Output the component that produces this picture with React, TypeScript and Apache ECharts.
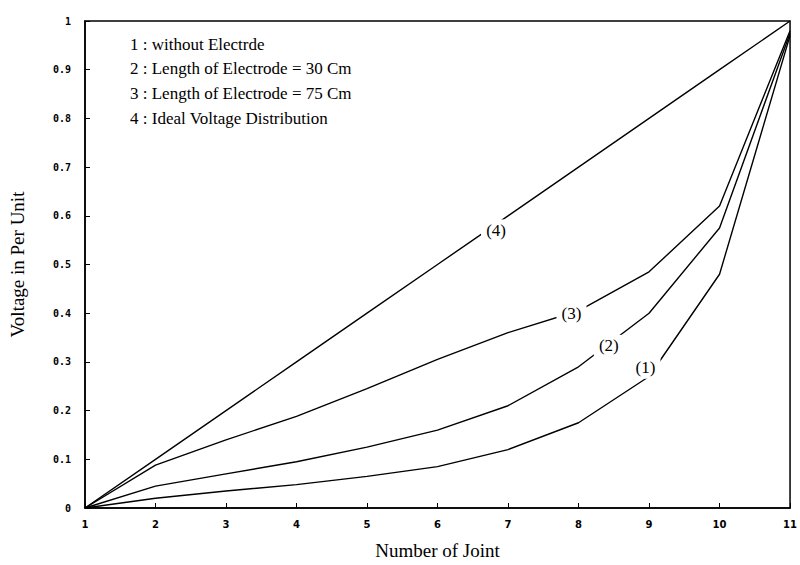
import React, { useEffect, useRef } from "react";
import * as echarts from "echarts";

const joints = [1, 2, 3, 4, 5, 6, 7, 8, 9, 10, 11];
const curve1 = [0, 0.02, 0.035, 0.048, 0.065, 0.085, 0.12, 0.175, 0.27, 0.48, 0.97];
const curve2 = [0, 0.045, 0.07, 0.095, 0.125, 0.16, 0.21, 0.29, 0.4, 0.575, 0.975];
const curve3 = [0, 0.088, 0.14, 0.188, 0.245, 0.305, 0.36, 0.405, 0.485, 0.62, 0.98];
const curve4 = [0, 0.1, 0.2, 0.3, 0.4, 0.5, 0.6, 0.7, 0.8, 0.9, 1.0];
const curveTags = ["(1)", "(2)", "(3)", "(4)"];
const tagPositions = [
  [8.95, 0.288],
  [8.43, 0.333],
  [7.9, 0.4],
  [6.83, 0.57],
];
const legendLines = [
  "1 : without Electrde",
  "2 : Length of Electrode = 30 Cm",
  "3 : Length of Electrode = 75 Cm",
  "4 : Ideal Voltage Distribution",
];

const SERIF = "'Liberation Serif', 'DejaVu Serif', serif";

export default function App() {
  const ref = useRef<HTMLDivElement>(null);
  useEffect(() => {
    document.body.style.margin = "0";
    if (!ref.current) return;
    const chart = echarts.init(ref.current, null, { renderer: "svg" });
    const curves = [curve1, curve2, curve3, curve4];
    const series = curves.map((c, i) => ({
      type: "line",
      data: joints.map((x, k) => [x, c[k]]),
      showSymbol: false,
      symbol: "none",
      lineStyle: { color: "#000", width: 1.4 },
      z: 2,
      markPoint: {
        symbol: "rect",
        symbolSize: [30, 22],
        itemStyle: { color: "#fff" },
        z: 5,
        label: {
          show: true,
          formatter: curveTags[i],
          color: "#000",
          fontFamily: SERIF,
          fontSize: 17,
        },
        data: [{ coord: tagPositions[i] }],
      },
    }));
    chart.setOption({
      animation: false,
      backgroundColor: "#fff",
      grid: {
        left: 84,
        right: 7,
        top: 21,
        bottom: 54,
        show: true,
        borderColor: "#000",
        borderWidth: 1.5,
      },
      xAxis: {
        type: "value",
        min: 1,
        max: 11,
        interval: 1,
        name: "Number of Joint",
        nameLocation: "middle",
        nameGap: 33,
        nameTextStyle: { fontFamily: SERIF, fontSize: 19, color: "#000" },
        axisLine: { lineStyle: { color: "#000", width: 1.5 } },
        axisTick: { inside: true, length: 5, lineStyle: { color: "#000" } },
        axisLabel: {
          color: "#000",
          fontFamily: "'DejaVu Sans'",
          fontWeight: "bold",
          fontSize: 10,
          margin: 11,
        },
        splitLine: { show: false },
      },
      yAxis: {
        type: "value",
        min: 0,
        max: 1,
        interval: 0.1,
        name: "Voltage in Per Unit",
        nameLocation: "middle",
        nameGap: 58,
        nameTextStyle: { fontFamily: SERIF, fontSize: 19, color: "#000" },
        axisLine: { lineStyle: { color: "#000", width: 1.5 } },
        axisTick: { inside: true, length: 5, lineStyle: { color: "#000" } },
        axisLabel: {
          color: "#000",
          fontFamily: "'DejaVu Sans Mono'",
          fontWeight: "bold",
          fontSize: 10,
          margin: 14,
          formatter: (v: number) => (v === 0 ? "0" : v === 1 ? "1" : v.toFixed(1)),
        },
        splitLine: { show: false },
      },
      graphic: legendLines.map((t, i) => ({
        type: "text",
        x: 130,
        y: 44 + i * 24.7,
        style: {
          text: t,
          font: `17px ${SERIF}`,
          fill: "#000",
          textVerticalAlign: "middle",
          verticalAlign: "middle",
        },
      })),
      series,
    });
    return () => chart.dispose();
  }, []);
  return <div ref={ref} style={{ width: 800, height: 565 }} />;
}
